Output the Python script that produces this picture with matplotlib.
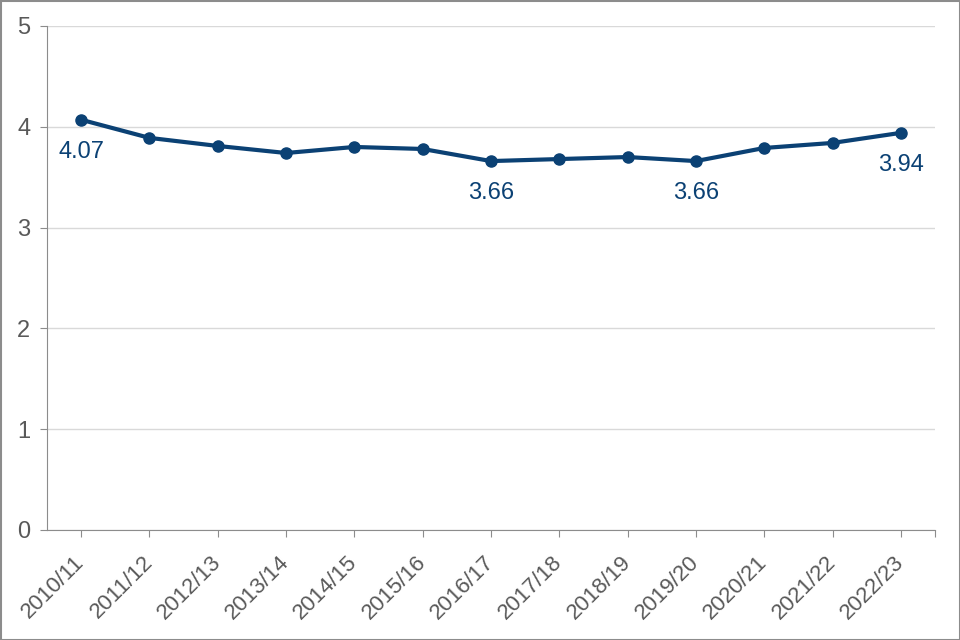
import numpy as np
import matplotlib
matplotlib.use('Agg')
from matplotlib import pyplot as plt
from matplotlib.patches import Rectangle

plt.rcParams['font.family'] = ['Liberation Sans', 'DejaVu Sans']

years = ['2010/11', '2011/12', '2012/13', '2013/14', '2014/15', '2015/16', '2016/17',
         '2017/18', '2018/19', '2019/20', '2020/21', '2021/22', '2022/23']
values = [4.07, 3.89, 3.81, 3.74, 3.80, 3.78, 3.66, 3.68, 3.70, 3.66, 3.79, 3.84, 3.94]
labelled = [0, 6, 9, 12]

navy = '#0b4174'
grey = '#595959'

fig = plt.figure(figsize=(9.6, 6.4), dpi=100)
ax = fig.add_axes([47/960, 1 - 530/640, (935-47)/960, (530-26)/640])

x = np.arange(len(years))
ax.plot(x, values, color=navy, lw=3, marker='o', ms=8, zorder=3)
for i in labelled:
    ax.annotate(f'{values[i]:.2f}', (x[i], values[i]), xytext=(0, -23), textcoords='offset points',
                ha='center', va='center', color=navy, fontsize=17)

ax.set_xlim(-0.5, len(years) - 0.5)
ax.set_ylim(0, 5)
ax.set_yticks(range(6))
ax.set_xticks(list(x) + [len(years) - 0.5])
ax.set_xticklabels(years + [''], rotation=45, ha='right', va='center', rotation_mode='anchor')
ax.tick_params(axis='x', colors='#8c8c8c', labelcolor=grey, labelsize=16, length=5, pad=16)
ax.tick_params(axis='y', colors='#8c8c8c', labelcolor=grey, labelsize=17, length=5, pad=7)
ax.grid(axis='y', color='#d9d9d9', lw=1)
ax.set_axisbelow(True)
for s in ['top', 'right']:
    ax.spines[s].set_visible(False)
for s in ['left', 'bottom']:
    ax.spines[s].set_color('#8c8c8c')

fig.patches.append(Rectangle((0.5/960, 0.5/640), 1 - 1/960, 1 - 1/640, transform=fig.transFigure,
                             fill=False, edgecolor='#8c8c8c', lw=1.5))

fig.savefig('out.png', dpi=100)
